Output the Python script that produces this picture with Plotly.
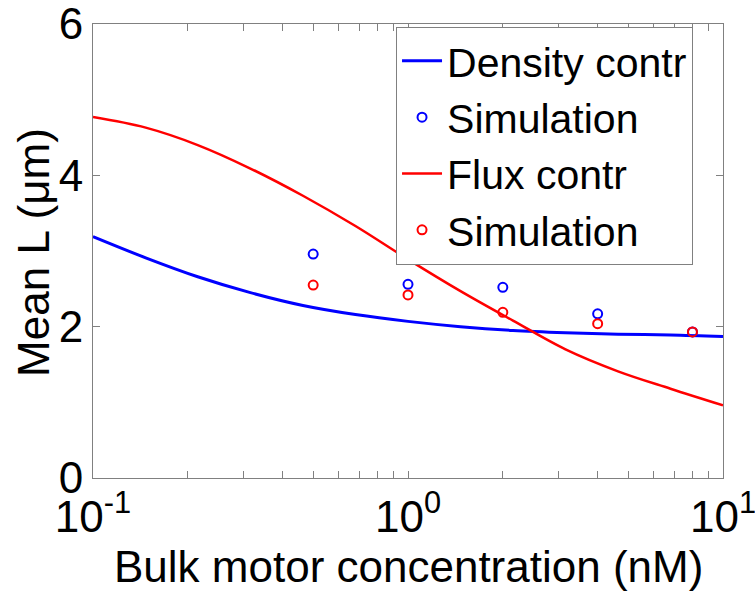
import plotly.graph_objects as go

# Curves (evenly spaced in log10 x)
curve_x = [0.1, 0.147, 0.215, 0.316, 0.464, 0.681, 1.0, 1.468, 2.154, 3.162, 4.642, 6.813, 10.0]
density_y = [3.19, 2.91, 2.66, 2.45, 2.28, 2.16, 2.07, 2.00, 1.95, 1.92, 1.90, 1.89, 1.87]
flux_y = [4.77, 4.63, 4.40, 4.09, 3.73, 3.33, 2.89, 2.47, 2.08, 1.70, 1.41, 1.18, 0.96]

# Simulation points
sim_x = [0.5, 1.0, 2.0, 4.0, 8.0]
sim_density = [2.96, 2.56, 2.52, 2.17, 1.93]
sim_flux = [2.55, 2.42, 2.19, 2.04, 1.93]

x_tickvals = [0.1, 0.2, 0.3, 0.4, 0.5, 0.6, 0.7, 0.8, 0.9,
              1, 2, 3, 4, 5, 6, 7, 8, 9, 10]
x_ticktext = ["10<sup>-1</sup>"] + [""] * 8 + ["10<sup>0</sup>"] + [""] * 8 + ["10<sup>1</sup>"]
y_tickvals = [0, 2, 4, 6]
x_title = "Bulk motor concentration (nM)"
y_title = "Mean L (μm)"

BLUE = "rgb(0,0,255)"
RED = "rgb(255,0,0)"
FONT = "Liberation Sans, Arial, sans-serif"

fig = go.Figure()
fig.add_trace(go.Scatter(x=curve_x, y=density_y, mode="lines", name="Density contr",
                         line=dict(color=BLUE, width=3, shape="spline", smoothing=1)))
fig.add_trace(go.Scatter(x=sim_x, y=sim_density, mode="markers", name="Simulation",
                         marker=dict(symbol="circle-open", size=9, color=BLUE,
                                     line=dict(width=2, color=BLUE))))
fig.add_trace(go.Scatter(x=curve_x, y=flux_y, mode="lines", name="Flux contr",
                         line=dict(color=RED, width=2.5, shape="spline", smoothing=1)))
fig.add_trace(go.Scatter(x=sim_x, y=sim_flux, mode="markers", name="Simulation",
                         marker=dict(symbol="circle-open", size=9, color=RED,
                                     line=dict(width=2, color=RED))))

axis_common = dict(showgrid=False, zeroline=False, showline=True, linecolor="#808080",
                   linewidth=1, mirror="ticks", ticks="inside", ticklen=7,
                   tickcolor="#808080", tickwidth=1, ticklabeloverflow="allow",
                   tickfont=dict(family=FONT, size=44, color="black"))

fig.update_xaxes(type="log", range=[-1, 1], tickmode="array", tickvals=x_tickvals,
                 ticktext=x_ticktext, **axis_common)
fig.update_yaxes(range=[0, 6], tickmode="array", tickvals=y_tickvals, **axis_common)

fig.add_annotation(text=x_title, xref="paper", yref="paper", x=0.5, y=-0.196,
                   xanchor="center", yanchor="middle", showarrow=False,
                   font=dict(family=FONT, size=44, color="black"))
fig.add_annotation(text=y_title, xref="paper", yref="paper", x=-0.0937, y=0.498,
                   xanchor="center", yanchor="middle", showarrow=False, textangle=-90,
                   font=dict(family=FONT, size=44, color="black"))

fig.update_layout(
    width=755, height=595,
    margin=dict(l=93, r=32, t=24, b=117, autoexpand=False),
    plot_bgcolor="white", paper_bgcolor="white",
    showlegend=True,
    legend=dict(x=0.481, y=0.994, xanchor="left", yanchor="top",
                bordercolor="#808080", borderwidth=1, bgcolor="white",
                font=dict(family=FONT, size=41, color="black"),
                tracegroupgap=0, itemwidth=40),
)

# remove the page's default 8 px body margin so the figure sits at the window's corner
fig.write_html("out.html", config={"displayModeBar": False},
               post_script="document.body.style.margin='0';document.body.style.overflow='hidden';")
